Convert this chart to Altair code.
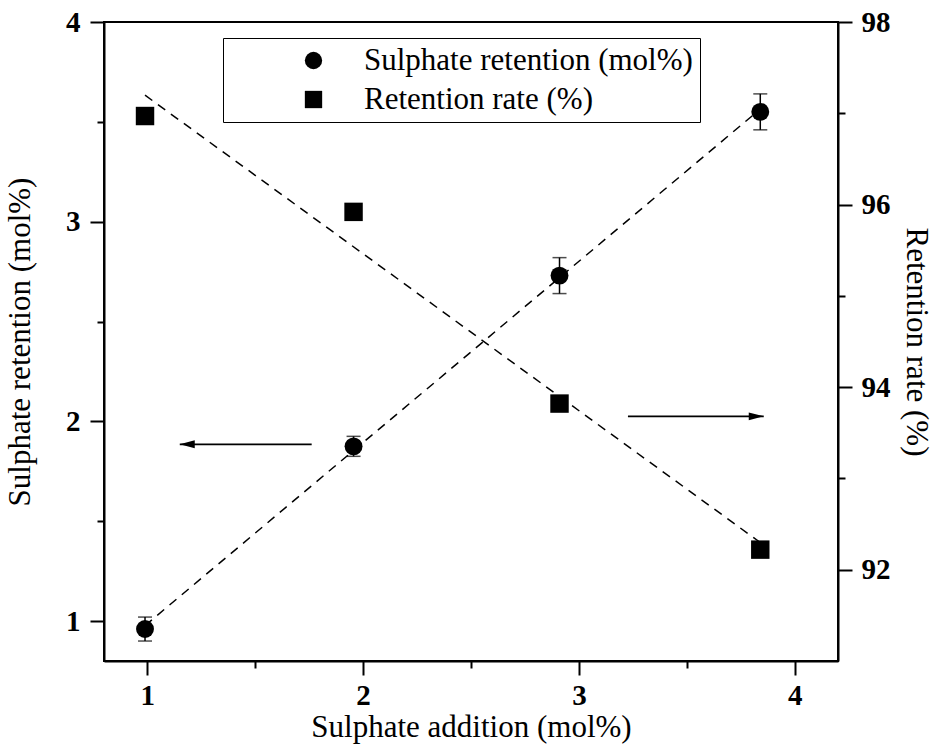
import altair as alt
import pandas as pd

# Measured series
addition = [0.99, 1.956, 2.91, 3.84]            # sulphate addition (mol%)
sulphate_retention = [0.96, 1.875, 2.73, 3.55]  # left axis (mol%)
sulphate_err = [0.06, 0.05, 0.09, 0.09]         # error of sulphate retention
retention_rate = [96.97, 95.92, 93.82, 92.22]   # right axis (%)

series_names = ["Sulphate retention (mol%)", "Retention rate (%)"]

x_major = [1, 2, 3, 4]
x_minor = [1.5, 2.5, 3.5]
left_major = [1, 2, 3, 4]
left_minor = [1.5, 2.5, 3.5]
right_major = [92, 94, 96, 98]
right_minor = [93, 95, 97]

# Arrows pointing to the axis each series belongs to
left_arrow_x = [1.762, 1.151]   # start, tip
left_arrow_y = [1.885]
right_arrow_x = [3.227, 3.856]  # start, tip
right_arrow_y = [93.68]

FONT = "Liberation Serif"
X_DOMAIN = [0.8, 4.2]
LEFT_DOMAIN = [0.8, 4.0]
RIGHT_DOMAIN = [91.0, 98.0]

circles_df = pd.DataFrame({
    "addition": addition,
    "value": sulphate_retention,
    "lo": [v - e for v, e in zip(sulphate_retention, sulphate_err)],
    "hi": [v + e for v, e in zip(sulphate_retention, sulphate_err)],
    "series": series_names[0],
})
squares_df = pd.DataFrame({
    "addition": addition,
    "value": retention_rate,
    "series": series_names[1],
})
left_arrow_df = pd.DataFrame({"x1": [left_arrow_x[0]], "x2": [left_arrow_x[1]], "y": left_arrow_y})
right_arrow_df = pd.DataFrame({"x1": [right_arrow_x[0]], "x2": [right_arrow_x[1]], "y": right_arrow_y})

x_scale = alt.Scale(domain=X_DOMAIN, nice=False, zero=False)
left_scale = alt.Scale(domain=LEFT_DOMAIN, nice=False, zero=False)
right_scale = alt.Scale(domain=RIGHT_DOMAIN, nice=False, zero=False)


def minor_axis(orient, values):
    return alt.Axis(orient=orient, values=values, labels=False, tickSize=7,
                    title=None, domain=False)


x_major_axis = alt.Axis(orient="bottom", values=x_major, tickSize=14,
                        title="Sulphate addition (mol%)", labelPadding=6, titlePadding=2)
left_major_axis = alt.Axis(orient="left", values=left_major, tickSize=14,
                           title="Sulphate retention (mol%)", labelPadding=10, titlePadding=29)
right_major_axis = alt.Axis(orient="right", values=right_major, tickSize=14,
                            title="Retention rate (%)", labelPadding=9, titlePadding=9)

shape_enc = alt.Shape(
    "series:N",
    scale=alt.Scale(domain=series_names, range=["circle", "square"]),
    legend=alt.Legend(
        orient="none",
        legendX=119,
        legendY=16,
        title=None,
        strokeColor="black",
        fillColor="white",
        padding=7,
        symbolOffset=68,
        labelOffset=35,
        labelFont=FONT,
        labelFontSize=31,
        labelColor="black",
        labelLimit=600,
        symbolSize=300,
        symbolFillColor="black",
        symbolStrokeColor="black",
        symbolStrokeWidth=0,
        rowPadding=7,
    ),
)

dash = [9, 7]
arrow_path_left = "M0,0L2,-0.53L2,0.53Z"
arrow_path_right = "M0,0L-2,-0.53L-2,0.53Z"

# ---- left-axis group: sulphate retention ----
circle_fit = alt.Chart(circles_df).transform_regression(
    "addition", "value", method="linear"
).mark_line(color="black", strokeWidth=1.5, strokeDash=dash).encode(
    x=alt.X("addition:Q", scale=x_scale, axis=minor_axis("bottom", x_minor)),
    y=alt.Y("value:Q", scale=left_scale, axis=minor_axis("left", left_minor)),
)

circle_err = alt.Chart(circles_df).mark_errorbar(
    ticks=True, size=14, thickness=1.5, color="black"
).encode(
    x=alt.X("addition:Q", scale=x_scale, axis=None),
    y=alt.Y("lo:Q", scale=left_scale, axis=None),
    y2="hi:Q",
)

circle_pts = alt.Chart(circles_df).mark_point(
    filled=True, size=320, opacity=1, color="black"
).encode(
    x=alt.X("addition:Q", scale=x_scale, axis=x_major_axis),
    y=alt.Y("value:Q", scale=left_scale, axis=left_major_axis),
    shape=shape_enc,
)

left_arrow_line = alt.Chart(left_arrow_df).mark_rule(color="black", strokeWidth=1.6).encode(
    x=alt.X("x1:Q", scale=x_scale, axis=None),
    x2="x2:Q",
    y=alt.Y("y:Q", scale=left_scale, axis=None),
)
left_arrow_head = alt.Chart(left_arrow_df).mark_point(
    shape=arrow_path_left, filled=True, size=225, opacity=1, color="black"
).encode(
    x=alt.X("x2:Q", scale=x_scale, axis=None),
    y=alt.Y("y:Q", scale=left_scale, axis=None),
)

left_group = alt.layer(
    circle_fit, circle_err, circle_pts, left_arrow_line, left_arrow_head
).resolve_axis(x="independent", y="independent")

# ---- right-axis group: retention rate ----
square_fit = alt.Chart(squares_df).transform_regression(
    "addition", "value", method="linear"
).mark_line(color="black", strokeWidth=1.5, strokeDash=dash).encode(
    x=alt.X("addition:Q", scale=x_scale, axis=None),
    y=alt.Y("value:Q", scale=right_scale, axis=minor_axis("right", right_minor)),
)

square_pts = alt.Chart(squares_df).mark_point(
    filled=True, size=340, opacity=1, color="black"
).encode(
    x=alt.X("addition:Q", scale=x_scale, axis=None),
    y=alt.Y("value:Q", scale=right_scale, axis=right_major_axis),
    shape=shape_enc,
)

right_arrow_line = alt.Chart(right_arrow_df).mark_rule(color="black", strokeWidth=1.6).encode(
    x=alt.X("x1:Q", scale=x_scale, axis=None),
    x2="x2:Q",
    y=alt.Y("y:Q", scale=right_scale, axis=None),
)
right_arrow_head = alt.Chart(right_arrow_df).mark_point(
    shape=arrow_path_right, filled=True, size=225, opacity=1, color="black"
).encode(
    x=alt.X("x2:Q", scale=x_scale, axis=None),
    y=alt.Y("y:Q", scale=right_scale, axis=None),
)

right_group = alt.layer(
    square_fit, square_pts, right_arrow_line, right_arrow_head
).resolve_axis(y="independent")

chart = alt.layer(left_group, right_group).resolve_scale(
    y="independent"
).properties(
    width=734,
    height=639,
    autosize=alt.AutoSizeParams(type="none"),
    padding={"left": 104, "top": 22, "right": 105, "bottom": 88},
    background="white",
).configure_view(
    stroke="black", strokeWidth=2
).configure_axis(
    domainColor="black",
    domainWidth=2,
    tickColor="black",
    tickWidth=2,
    grid=False,
    labelFont=FONT,
    labelFontSize=29,
    labelFontWeight="bold",
    labelColor="black",
    titleFont=FONT,
    titleFontSize=31,
    titleFontWeight="normal",
    titleColor="black",
)

chart.save("out.html", embed_options={"renderer": "svg", "actions": False})
